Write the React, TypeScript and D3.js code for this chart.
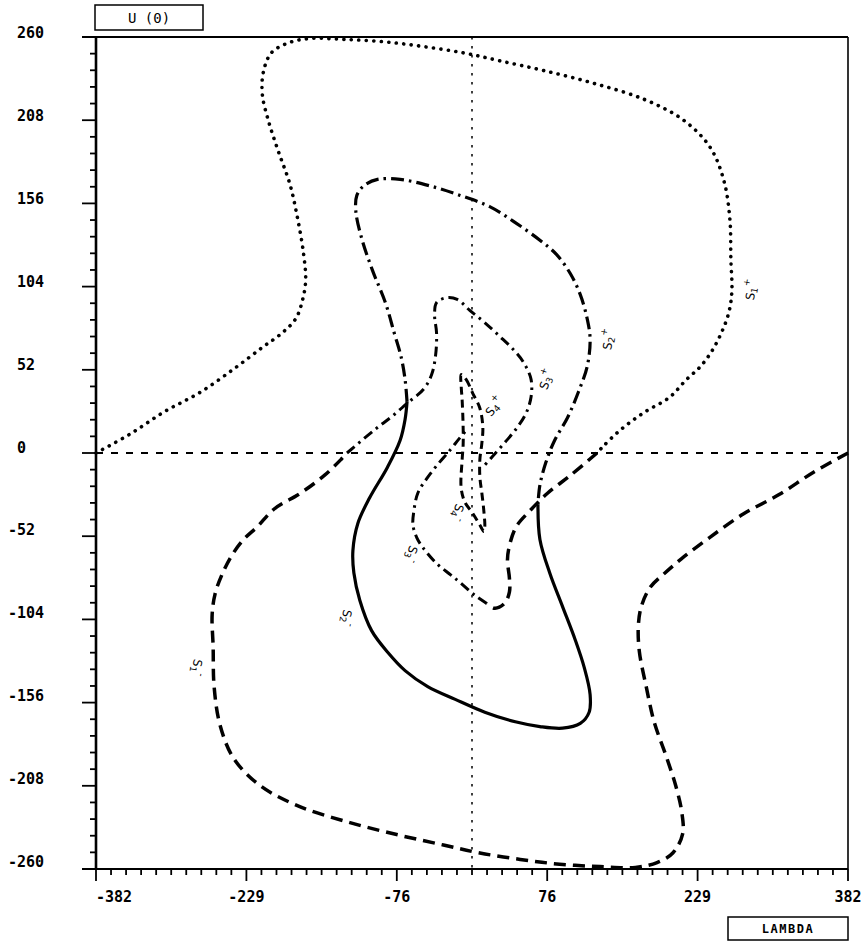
import React from 'react';
import * as d3 from 'd3';

// ---- axis ticks ----
const xTickValues = [-382, -229.2, -76.4, 76.4, 229.2, 382];
const xTickLabels = ['-382', '-229', '-76', '76', '229', '382'];
const yTickValues = [260, 208, 156, 104, 52, 0, -52, -104, -156, -208, -260];
const yTickLabels = ['260', '208', '156', '104', '52', '0', '-52', '-104', '-156', '-208', '-260'];

const titleText = 'U (0)';
const xAxisTitle = 'LAMBDA';

// ---- curves (LAMBDA, U(0)) ----
// S1+ : dotted outer branch
const s1PlusDotted: [number, number][] = [
  [-382, 0], [-347, 12], [-312, 26], [-276, 38], [-241, 53], [-213, 66], [-193, 75], [-179, 84],
  [-172, 96], [-169, 108], [-171, 124], [-177, 146], [-185, 168], [-197, 189], [-207, 208],
  [-213, 224], [-212, 238], [-204, 250], [-188, 256], [-166, 259], [-130, 258.5], [-89, 257],
  [-49, 254], [-8, 250], [29, 245], [73, 239], [124, 231], [175, 221], [215, 208], [242, 191],
  [256, 170], [262, 146], [263, 121], [264, 101], [261, 88], [254, 76], [244, 64], [232, 54],
  [218, 46], [201, 35], [174, 25], [150, 14], [133, 4], [127, 0],
];
// S1- : long-dashed outer branch
const s1MinusDashed: [number, number][] = [
  [382, 0], [347, -12], [312, -26], [276, -38], [241, -53], [213, -66], [196, -75], [181, -84],
  [172, -96], [169, -108], [170, -124], [177, -146], [185, -168], [197, -189], [207, -208],
  [213, -224], [214, -238], [204, -250], [188, -256], [166, -259], [130, -258.5], [89, -257],
  [49, -254], [8, -250], [-29, -245], [-73, -239], [-124, -231], [-175, -221], [-215, -208],
  [-242, -191], [-256, -170], [-262, -146], [-263, -121], [-264, -101], [-261, -88], [-254, -76],
  [-244, -64], [-232, -54], [-218, -46], [-201, -35], [-174, -25], [-150, -14], [-133, -4], [-127, 0],
];
// lower inner branch, long-dashed part
const innerLowerDashed: [number, number][] = [
  [127, 0], [100, -14], [77, -25], [59, -36], [45, -46], [38, -58], [36, -67], [38, -78],
  [38, -87], [33, -94], [23, -97], [15, -94],
];
// lower inner branch, dash-dot part (S3-)
const innerLowerDashDot: [number, number][] = [
  [15, -94], [3, -89], [-12, -81], [-22, -76], [-36, -69], [-50, -59], [-56, -53], [-60, -45],
  [-59, -36], [-55, -25], [-46, -16], [-36, -8], [-22, 2], [-13, 9], [-6, 14],
];
// upper inner branch, dash-dot (S3+)
const innerUpperDashDot: [number, number][] = [
  [-127, 0], [-100, 14], [-81, 23], [-66, 31], [-49, 40], [-41, 49], [-37, 61], [-36, 75],
  [-38, 86], [-36, 94], [-26, 97], [-15, 96], [-2, 89], [12, 82], [28, 73], [43, 64], [53, 56],
  [60, 46], [60, 35], [55, 25], [46, 16], [34, 7], [21, -2], [11, -9],
];
// S2+ : big loop, upper arc (dash-dot)
const s2PlusDashDot: [number, number][] = [
  [-66, 32], [-68, 46], [-72, 60], [-79, 75], [-88, 94], [-101, 114], [-112, 134], [-118, 151],
  [-117, 161], [-110, 167], [-96, 171], [-73, 171], [-43, 167], [-12, 161], [18, 154], [44, 144],
  [69, 133], [86, 124], [100, 112], [110, 99], [117, 84], [120, 71], [117, 54], [108, 38],
  [97, 22], [84, 8], [75, -6], [69, -20], [67, -32],
];
// S2- : big loop, lower arc (solid)
const s2MinusSolid: [number, number][] = [
  [67, -32], [69, -54], [79, -75], [92, -96], [105, -117], [114, -134], [120, -151], [119, -162],
  [110, -169], [92, -172], [69, -171], [44, -168], [13, -162], [-17, -154], [-45, -146],
  [-68, -136], [-85, -125], [-102, -111], [-114, -92], [-120, -75], [-121, -61], [-116, -44],
  [-104, -28], [-86, -9], [-73, 8], [-68, 21], [-66, 32],
];
// S4 : thin closed loop near the axis (dashed)
const s4Loop: [number, number][] = [
  [-11, 49], [-6, 46], [1, 37], [8, 28], [11, 16], [10, 6], [8, -4], [8, -15], [10, -25],
  [12, -36], [13, -46], [12, -49], [8, -45], [0, -37], [-7, -31], [-11, -22], [-10, -4],
  [-9, 5], [-9, 16], [-10, 33], [-11, 42],
];

// ---- curve labels ----
const labelNames = ['S', 'S', 'S', 'S', 'S', 'S', 'S', 'S'];
const labelIndices = ['1', '2', '3', '4', '4', '3', '2', '1'];
const labelSigns = ['+', '+', '+', '+', '-', '-', '-', '-'];
const labelPositions: [number, number][] = [
  [284, 102], [139, 71], [76, 46], [23, 29], [-15, -37], [-62, -63], [-128, -103], [-280, -134],
];
const labelAngles = [-80, -80, -70, -50, 110, 110, 100, 100];

const W = 864;
const H = 946;

export default function App() {
  const x = d3.scaleLinear().domain([-382, 382]).range([96, 848]);
  const y = d3.scaleLinear().domain([-260, 260]).range([869, 37]);
  const yLab = d3.scaleLinear().domain([-260, 260]).range([862, 33]);

  const line = d3
    .line<[number, number]>()
    .x((d) => x(d[0]))
    .y((d) => y(d[1]))
    .curve(d3.curveCatmullRom.alpha(0.5));
  const closedLine = d3
    .line<[number, number]>()
    .x((d) => x(d[0]))
    .y((d) => y(d[1]))
    .curve(d3.curveCatmullRomClosed.alpha(0.5));

  const xMinor = d3.range(0, 51).map((i) => -382 + (i * 764) / 50);
  const yMinor = d3.range(0, 51).map((i) => -260 + (i * 520) / 50);

  const [x0, x1] = x.range();
  const [yb, yt] = y.range();

  const mono = '"DejaVu Sans Mono", "Liberation Mono", monospace';

  return (
    <svg
      width={W}
      height={H}
      style={{ position: 'absolute', left: 0, top: 0, background: '#fff' }}
      xmlns="http://www.w3.org/2000/svg"
    >
      <rect x={0} y={0} width={W} height={H} fill="#fff" />

      {/* reference lines */}
      <line x1={x0} x2={x1} y1={y(0)} y2={y(0)} stroke="#000" strokeWidth={2} strokeDasharray="7 8" />
      <line x1={x(0)} x2={x(0)} y1={yt} y2={yb} stroke="#000" strokeWidth={1.5} strokeDasharray="2.5 6.5" />

      {/* frame */}
      <line x1={x0} x2={x0} y1={yt} y2={yb} stroke="#000" strokeWidth={2.6} />
      <line x1={x0 - 14} x2={x1} y1={yb} y2={yb} stroke="#000" strokeWidth={2.2} />
      <line x1={x0 - 14} x2={x1} y1={yt} y2={yt} stroke="#000" strokeWidth={2.2} />
      <line x1={x1} x2={x1} y1={yt} y2={yb} stroke="#000" strokeWidth={1.6} />

      {/* y ticks */}
      {yMinor.map((v, i) => (
        <line key={'ym' + i} x1={x0 - (i % 5 === 0 ? 14 : 6)} x2={x0} y1={y(v)} y2={y(v)} stroke="#000" strokeWidth={1.8} />
      ))}
      {/* x ticks */}
      {xMinor.map((v, i) => (
        <line key={'xm' + i} x1={x(v)} x2={x(v)} y1={yb} y2={yb + (i % 10 === 0 ? 12 : 6)} stroke="#000" strokeWidth={1.8} />
      ))}

      {/* tick labels */}
      {yTickValues.map((v, i) => (
        <text
          key={'yl' + i}
          x={v < 0 ? 8 : 17}
          y={yLab(v)}
          dominantBaseline="central"
          fontFamily={mono}
          fontWeight="bold"
          fontSize={15}
          fill="#000"
        >
          {yTickLabels[i]}
        </text>
      ))}
      {xTickValues.map((v, i) => (
        <text
          key={'xl' + i}
          x={x(v)}
          y={897}
          textAnchor={i === 0 ? 'start' : 'middle'}
          dominantBaseline="central"
          fontFamily={mono}
          fontWeight="bold"
          fontSize={15}
          fill="#000"
        >
          {xTickLabels[i]}
        </text>
      ))}

      {/* title boxes */}
      <rect x={95} y={5} width={108} height={25} fill="#fff" stroke="#000" strokeWidth={1.5} />
      <text x={149} y={18} textAnchor="middle" dominantBaseline="central" fontFamily={mono} fontSize={14} fill="#000">
        {titleText}
      </text>
      <rect x={728} y={917} width={120} height={23} fill="#fff" stroke="#000" strokeWidth={1.5} />
      <text x={788} y={929} textAnchor="middle" dominantBaseline="central" fontFamily={mono} fontWeight="bold" fontSize={12} letterSpacing={1.5} fill="#000">
        {xAxisTitle}
      </text>

      {/* curves */}
      <g fill="none" stroke="#000">
        <path d={line(s1PlusDotted) || ''} strokeWidth={3.6} strokeDasharray="0.1 7.4" strokeLinecap="round" />
        <path d={line(s1MinusDashed) || ''} strokeWidth={3.5} strokeDasharray="12 7" />
        <path d={line(innerLowerDashed) || ''} strokeWidth={3.5} strokeDasharray="12 7" />
        <path d={line(innerLowerDashDot) || ''} strokeWidth={3} strokeDasharray="10 5 2.5 5" />
        <path d={line(innerUpperDashDot) || ''} strokeWidth={3} strokeDasharray="10 5 2.5 5" />
        <path d={line(s2PlusDashDot) || ''} strokeWidth={3.2} strokeDasharray="13 5 2.5 5" />
        <path d={line(s2MinusSolid) || ''} strokeWidth={3.2} />
        <path d={closedLine(s4Loop) || ''} strokeWidth={3} strokeDasharray="8 5" />
      </g>

      {/* curve labels */}
      {labelPositions.map((p, i) => (
        <text
          key={'cl' + i}
          transform={`translate(${x(p[0])},${y(p[1])}) rotate(${labelAngles[i]})`}
          textAnchor="middle"
          dominantBaseline="central"
          fontFamily='"DejaVu Sans", sans-serif'
          fontSize={12}
          fill="#000"
        >
          {labelNames[i]}
          <tspan fontSize={9} dy={3}>{labelIndices[i]}</tspan>
          <tspan fontSize={9} dy={-9}>{labelSigns[i]}</tspan>
        </text>
      ))}
    </svg>
  );
}
